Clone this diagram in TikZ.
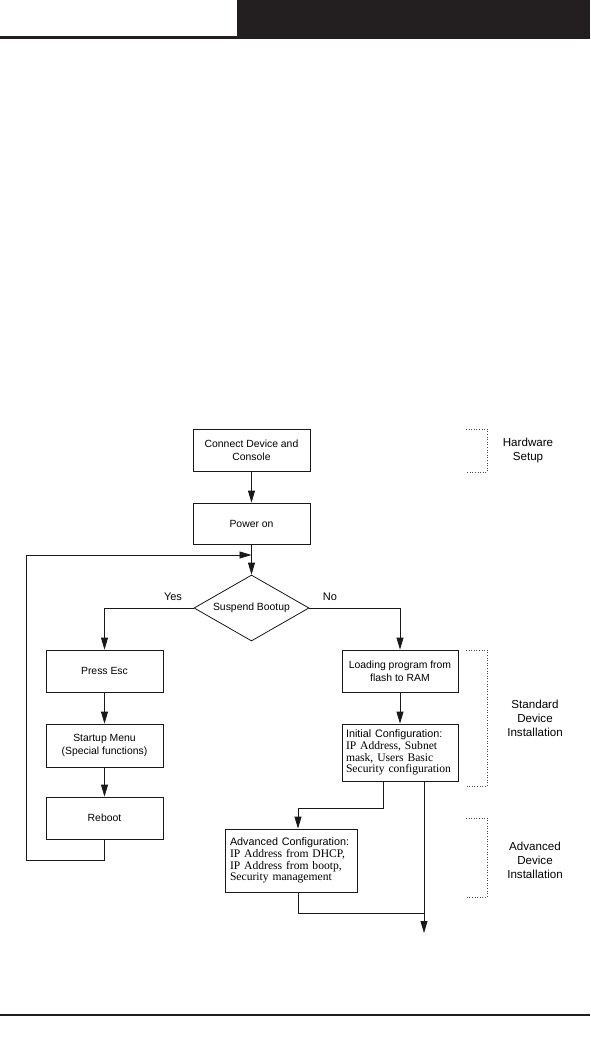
\documentclass[tikz,border=0pt]{standalone}
\usepackage{fontspec}
\setmainfont{Liberation Sans}
\newfontfamily\cfgserif{Liberation Serif}
\usetikzlibrary{arrows.meta,shapes.geometric}
\definecolor{barblack}{RGB}{35,31,32}
\definecolor{ink}{RGB}{25,25,25}

\begin{document}
\begin{tikzpicture}[
    x=1pt,
    y=-1pt,
    link/.style={draw=ink, line width=0.8pt},
    flow/.style={link, -{Triangle[length=12pt, width=7pt]}},
    stepbox/.style={draw=ink, line width=0.8pt, fill=white, minimum width=117pt,
      minimum height=42pt, inner sep=2pt, align=center,
      font=\fontsize{10.4}{13}\selectfont},
    cfgbox/.style={stepbox, align=left, inner xsep=#1,
      font=\fontsize{11.6}{11.7}\cfgserif},
    decision/.style={diamond, draw=ink, line width=0.8pt, aspect=2, inner sep=0pt,
      minimum width=115pt, minimum height=66pt, font=\fontsize{10.4}{13}\selectfont},
    answer/.style={font=\fontsize{11}{13}\selectfont},
    phase/.style={align=center, font=\fontsize{11.6}{14}\selectfont},
    bracket/.style={draw=ink!80, line width=0.6pt, dotted},
  ]
  \useasboundingbox (0,0) rectangle (590,1039);

  % === Page header and footer rules ===
  \fill[barblack] (237,0) rectangle (590,39);
  \fill[barblack] (0,36) rectangle (237,39);
  \fill[barblack] (0,1014) rectangle (590,1016);

  % === Boot sequence ===
  \node[stepbox] (connect) at (251.5,450.5) {Connect Device and\\Console};
  \node[stepbox, minimum height=41pt] (power) at (251.5,523.5) {Power on};
  \node[decision] (suspend) at (251.5,608) {Suspend Bootup};

  \node[answer] (yes) at (173,597) {Yes};
  \node[answer] (no) at (330,597) {No};

  % Left branch (Yes)
  \node[stepbox] (esc) at (104.5,671) {Press Esc};
  \node[stepbox, minimum height=43pt] (startup) at (104.5,745.5) {Startup Menu\\(Special functions)};
  \node[stepbox] (reboot) at (104.5,818) {Reboot};

  % Right branch (No)
  \node[stepbox, minimum width=116pt] (loading) at (400,671) {Loading program from\\flash to RAM};
  \node[cfgbox=4pt, minimum width=116pt, minimum height=57pt, text width=108pt] (initcfg)
    at (400,752.5) {\mbox{\fontsize{10.8}{11.7}\rmfamily Initial Configuration:}\\
      IP Address, Subnet\\mask, Users Basic\\Security configuration};
  \node[cfgbox=5pt, minimum width=132pt, minimum height=63pt, text width=122pt] (advcfg)
    at (291,860.5) {\mbox{\fontsize{10.8}{11.7}\rmfamily Advanced Configuration:}\\
      IP Address from DHCP,\\IP Address from bootp,\\Security management};

  % === Connectors ===
  \draw[flow] (connect) -- (power);
  \draw[flow] (power) -- (suspend);
  \draw[flow] (suspend.west) -| (esc);
  \draw[flow] (suspend.east) -| (loading);
  \draw[flow] (esc) -- (startup);
  \draw[flow] (startup) -- (reboot);
  \draw[flow] (loading) -- (initcfg);

  % Reboot loops back above the decision
  \coordinate (looplow) at (26,860);
  \coordinate (loophigh) at (26,555);
  \draw[flow] (reboot) |- (looplow) -- (loophigh) -- (power.south |- loophigh);

  % Standard path straight on, advanced path rejoins
  \coordinate (outlet) at (424,933);
  \coordinate (merge) at (424,913);
  \draw[flow] ([xshift=24pt]initcfg.south) -- (outlet);
  \draw[flow] ([xshift=-17pt]initcfg.south) -- ++(0,27) -| ([xshift=7pt]advcfg.north);
  \draw[link] ([xshift=7pt]advcfg.south) |- (merge);

  % === Phase brackets ===
  \foreach \ytop/\ybot in {429/472, 650/786, 818/897} {
    \draw[bracket] (466,\ytop) -- (487,\ytop) -- (487,\ybot) -- (466,\ybot);
  }
  \node[phase] (hwlabel) at (528,450.5) {Hardware\\Setup};
  \node[phase] (stdlabel) at (535,718) {Standard\\Device\\Installation};
  \node[phase] (advlabel) at (535,860) {Advanced\\Device\\Installation};

\end{tikzpicture}
\end{document}
